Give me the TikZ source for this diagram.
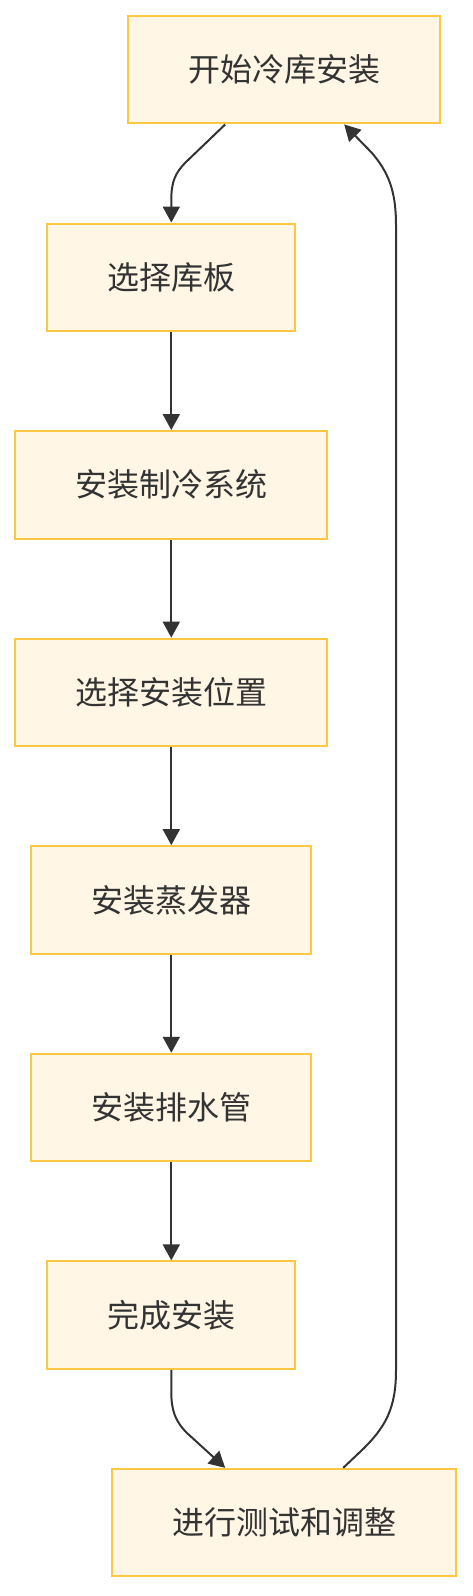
\documentclass[tikz,border=0pt]{standalone}
\usepackage{fontspec}
\newfontfamily\cjk{Noto Sans CJK SC}
\usetikzlibrary{arrows.meta}
\definecolor{boxfill}{RGB}{255,246,229}
\definecolor{boxline}{RGB}{252,200,66}
\definecolor{edgecol}{RGB}{51,51,51}
\tikzset{
  stepbox/.style={rectangle, draw=boxline, fill=boxfill, line width=2pt,
    minimum height=107.5pt, inner sep=0pt, text=edgecol,
    font=\cjk\fontsize{32}{38}\selectfont},
  flow/.style={draw=edgecol, line width=2pt,
    -{Triangle[length=16pt,width=17pt]}},
}
\begin{document}
\begin{tikzpicture}[x=1pt,y=-1pt]
\useasboundingbox (0,0) rectangle (472,1596);
\node[stepbox, minimum width=312pt] (n1) at (284.2,69.7) {开始冷库安装};
\node[stepbox, minimum width=248pt] (n2) at (171.3,277.3) {选择库板};
\node[stepbox, minimum width=312pt] (n3) at (171.3,484.8) {安装制冷系统};
\node[stepbox, minimum width=312pt] (n4) at (171.3,692.4) {选择安装位置};
\node[stepbox, minimum width=280pt] (n5) at (171.3,899.9) {安装蒸发器};
\node[stepbox, minimum width=280pt] (n6) at (171.3,1107.5) {安装排水管};
\node[stepbox, minimum width=248pt] (n7) at (171.3,1315.1) {完成安装};
\node[stepbox, minimum width=344pt] (n8) at (284.2,1522.6) {进行测试和调整};
% edges
\draw[flow] ([xshift=-59pt]n1.south) -- (186,162) .. controls (175,173) and (171.3,182) .. (171.3,200) -- (n2.north);
\draw[flow] (n2.south) -- (n3.north);
\draw[flow] (n3.south) -- (n4.north);
\draw[flow] (n4.south) -- (n5.north);
\draw[flow] (n5.south) -- (n6.north);
\draw[flow] (n6.south) -- (n7.north);
\draw[flow] (n7.south) -- (171.3,1392) .. controls (171.3,1410) and (175,1421) .. (187,1433) -- ([xshift=-59pt]n8.north);
\draw[flow] ([xshift=59pt]n8.north) -- (361,1451) .. controls (386,1427) and (396,1408) .. (396,1370) -- (396,225) .. controls (396,190) and (388,172) .. (372,153) -- ([xshift=60pt]n1.south);
\end{tikzpicture}
\end{document}
